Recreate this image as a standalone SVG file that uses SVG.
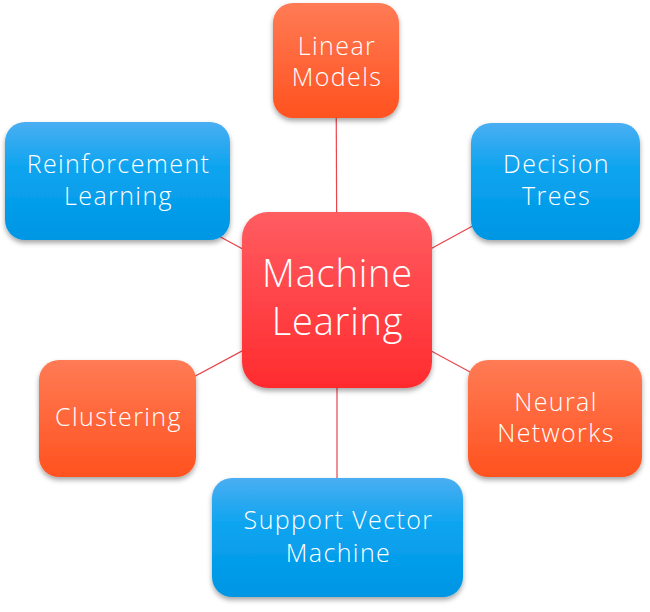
<svg xmlns="http://www.w3.org/2000/svg" width="650" height="612" viewBox="0 0 650 612">
<defs>
<linearGradient id="gOrange" x1="0" y1="0" x2="0" y2="1">
<stop offset="0" stop-color="#ff7b55"/>
<stop offset="1" stop-color="#ff521f"/>
</linearGradient>
<linearGradient id="gBlue" x1="0" y1="0" x2="0" y2="1">
<stop offset="0" stop-color="#4aaef2"/>
<stop offset="0.4" stop-color="#0ba4ef"/>
<stop offset="1" stop-color="#0096e4"/>
</linearGradient>
<linearGradient id="gRed" x1="0" y1="0" x2="0" y2="1">
<stop offset="0" stop-color="#ff5d62"/>
<stop offset="1" stop-color="#ff2b2e"/>
</linearGradient>
<filter id="sh" x="-10%" y="-10%" width="120%" height="125%">
<feDropShadow dx="0" dy="3" stdDeviation="2.5" flood-color="#000" flood-opacity="0.35"/>
</filter>
</defs>
<style>
.conn line{stroke:#e8444c;stroke-width:1.2}
.box{filter:url(#sh)}
text{font-family:"Open Sans","Liberation Sans",sans-serif;fill:#fff;text-anchor:middle;font-weight:300}
.s{font-size:25px;letter-spacing:1.4px}
.b{font-size:38px;letter-spacing:0.8px}
</style>
<g id="connectors" class="conn">
<line x1="337" y1="300" x2="336" y2="60"/>
<line x1="337" y1="300" x2="117" y2="181"/>
<line x1="337" y1="300" x2="555" y2="181"/>
<line x1="337" y1="300" x2="117" y2="418"/>
<line x1="337" y1="300" x2="555" y2="418"/>
<line x1="337" y1="300" x2="337" y2="537"/>
</g>
<g id="linear-models">
<rect class="box" x="273" y="3" width="126" height="115" rx="20" fill="url(#gOrange)"/>
<text class="s" x="337" y="55">Linear</text>
<text class="s" x="337" y="86">Models</text>
</g>
<g id="reinforcement-learning">
<rect class="box" x="5" y="122" width="225" height="118" rx="20" fill="url(#gBlue)"/>
<text class="s" x="118.5" y="173">Reinforcement</text>
<text class="s" x="118.5" y="205">Learning</text>
</g>
<g id="decision-trees">
<rect class="box" x="471" y="123" width="169" height="117" rx="20" fill="url(#gBlue)"/>
<text class="s" x="556.5" y="173">Decision</text>
<text class="s" x="556.5" y="205">Trees</text>
</g>
<g id="machine-learning">
<rect class="box" x="242" y="212" width="190" height="176" rx="26" fill="url(#gRed)"/>
<text class="b" x="337.5" y="287">Machine</text>
<text class="b" x="337.5" y="335">Learing</text>
</g>
<g id="clustering">
<rect class="box" x="39" y="360" width="157" height="117" rx="20" fill="url(#gOrange)"/>
<text class="s" x="118.5" y="426">Clustering</text>
</g>
<g id="neural-networks">
<rect class="box" x="468" y="360" width="174" height="117" rx="20" fill="url(#gOrange)"/>
<text class="s" x="556" y="411">Neural</text>
<text class="s" x="556" y="442">Networks</text>
</g>
<g id="support-vector-machine">
<rect class="box" x="212" y="478" width="251" height="119" rx="20" fill="url(#gBlue)"/>
<text class="s" x="338.5" y="529">Support Vector</text>
<text class="s" x="338.5" y="562">Machine</text>
</g>
</svg>
